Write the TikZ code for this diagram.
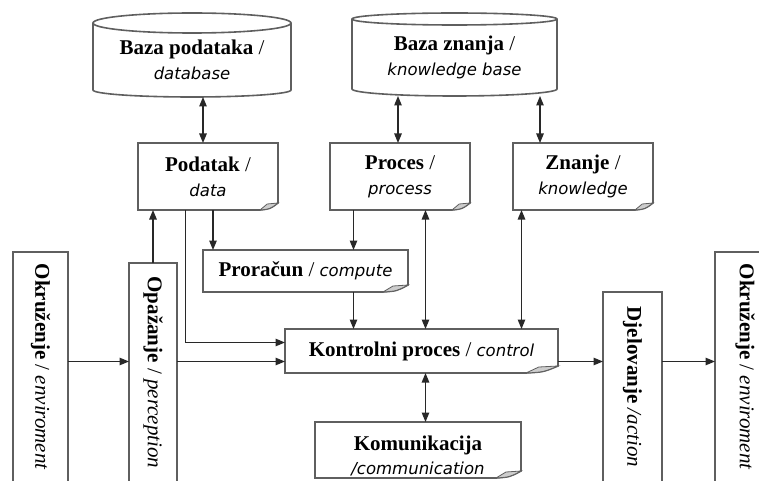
\documentclass[tikz,border=0pt]{standalone}
\usepackage{fontspec}
\setmainfont{Liberation Serif}
\newfontfamily\ensf{DejaVu Sans}
\usetikzlibrary{arrows.meta,calc}

\definecolor{boxgray}{RGB}{95,95,95}
\definecolor{linegray}{RGB}{40,40,40}
\definecolor{foldgray}{RGB}{205,205,205}

% English glosses in an oblique sans
\newcommand\en[1]{{\ensf\itshape\fontsize{16.5}{25}\selectfont #1}}
% thin separating slash
\newcommand\slsh{{\mdseries\upshape /}}

\tikzset{
  boxline/.style={draw=boxgray, line width=1.6pt},
  foldline/.style={draw=boxgray, line width=0.8pt, fill=foldgray},
  holder/.style={inner sep=0pt, outer sep=0pt, align=center,
                 font=\fontsize{21}{25}\selectfont},
  sidebox/.style={holder, boxline},
  arrow/.style={draw=linegray, line width=1.2pt,
                -{Triangle[length=9.5pt,width=7.5pt]}},
  dblarrow/.style={draw=linegray, line width=1.2pt,
                {Triangle[length=9.5pt,width=7.5pt]}-{Triangle[length=9.5pt,width=7.5pt]}},
}

% note shape: rectangle with a curled bottom-right corner
\newcommand\notebox[2]{%
  \draw[boxline] (#1.north west) -- (#1.north east) -- ([yshift=7pt]#1.south east)
    .. controls ([xshift=-#2*0.45, yshift=1pt]#1.south east) .. ([xshift=-#2]#1.south east)
    -- (#1.south west) -- cycle;
  \draw[foldline] ([xshift=-#2]#1.south east) -- ([xshift=-#2*0.6, yshift=6pt]#1.south east)
    -- ([yshift=7pt]#1.south east) .. controls ([xshift=-#2*0.45, yshift=1pt]#1.south east)
    .. cycle;
}

% cylinder around a node: name, x radius, top y radius, bottom y radius
\newcommand\drum[4]{%
  \draw[boxline] (#1.north west) -- ([yshift=#4]#1.south west)
    arc[start angle=180, end angle=360, x radius=#2, y radius=#4]
    -- (#1.north east)
    arc[start angle=0, end angle=180, x radius=#2, y radius=#3] -- cycle;
  \draw[boxline] (#1.north west)
    arc[start angle=180, end angle=360, x radius=#2, y radius=#3];
}

\begin{document}
\begin{tikzpicture}[x=1pt, y=-1pt]
  \useasboundingbox (0,0) rectangle (759,481);

  % stores
  \node[holder, minimum width=198pt, minimum height=74pt] (db) at (192,60)
    {\textbf{Baza podataka} \slsh\\ \en{database}};
  \node[holder, minimum width=205pt, minimum height=77pt] (kb) at (454.5,57.5)
    {\textbf{Baza znanja} \slsh\\ \en{knowledge base}};
  \drum{db}{99pt}{10pt}{7pt}
  \drum{kb}{102.5pt}{6pt}{7pt}

  % documents
  \node[holder, minimum width=140pt, minimum height=67pt] (podatak) at (208,176.5)
    {\textbf{Podatak} \slsh\\ \en{data}};
  \node[holder, minimum width=140pt, minimum height=67pt] (proces) at (400,176.5)
    {\textbf{Proces} \slsh\\ \en{process}};
  \node[holder, minimum width=140pt, minimum height=67pt] (znanje) at (583,176.5)
    {\textbf{Znanje} \slsh\\ \en{knowledge}};
  \node[holder, minimum width=205pt, minimum height=42pt] (proracun) at (305.5,271)
    {\textbf{Proračun} \slsh{} \en{compute}};
  \node[holder, minimum width=273pt, minimum height=44pt] (kontrolni) at (421.5,351)
    {\textbf{Kontrolni proces} \slsh{} \en{control}};
  \node[holder, minimum width=206pt, minimum height=56pt] (komunikacija) at (418,450)
    {\rule{0pt}{27pt}\textbf{Komunikacija}\\[-1pt] \en{/communication}};
  \notebox{podatak}{18pt}
  \notebox{proces}{18pt}
  \notebox{znanje}{18pt}
  \notebox{proracun}{25pt}
  \notebox{kontrolni}{32pt}
  \notebox{komunikacija}{25pt}

  % tall vertical boxes
  \node[sidebox, minimum width=55pt, minimum height=230pt] (okr1) at (40.5,367)
    {\rotatebox{-90}{\textbf{Okruženje} / \textit{enviroment}}};
  \node[sidebox, minimum width=48pt, minimum height=219pt] (opazanje) at (153,372.5)
    {\rotatebox{-90}{\textbf{Opažanje} / \textit{perception}}};
  \node[sidebox, minimum width=59pt, minimum height=190pt] (djelovanje) at (632.5,387)
    {\rotatebox{-90}{\textbf{Djelovanje} \textit{/action}}};
  \node[sidebox, minimum width=60pt, minimum height=230pt] (okr2) at (745,367)
    {\rotatebox{-90}{\textbf{Okruženje} / \textit{enviroment}}};

  % routing guides
  \coordinate (mainline) at (0,361.5);
  \coordinate (upline) at (0,342.5);
  \coordinate (vdb) at (203,0);
  \coordinate (vkbp) at (398,0);
  \coordinate (vkbz) at (540,0);
  \coordinate (vpd) at (185.5,0);
  \coordinate (vpr) at (213,0);
  \coordinate (vcomp) at (353.5,0);
  \coordinate (vctl) at (425.5,0);
  \coordinate (vkn) at (521.5,0);

  % connectors
  \draw[dblarrow] (db.south -| vdb) -- (podatak.north -| vdb);
  \draw[dblarrow] (kb.south -| vkbp) -- (proces.north -| vkbp);
  \draw[dblarrow] (kb.south -| vkbz) -- (znanje.north -| vkbz);
  \draw[arrow] (opazanje.north) -- (podatak.south -| opazanje.north);
  \draw[arrow] (podatak.south -| vpd) |- (kontrolni.west |- upline);
  \draw[arrow] (podatak.south -| vpr) -- (proracun.north -| vpr);
  \draw[arrow] (proces.south -| vcomp) -- (proracun.north -| vcomp);
  \draw[arrow] (proracun.south -| vcomp) -- (kontrolni.north -| vcomp);
  \draw[dblarrow] (proces.south -| vctl) -- (kontrolni.north -| vctl);
  \draw[dblarrow] (znanje.south -| vkn) -- (kontrolni.north -| vkn);
  \draw[dblarrow] (kontrolni.south -| vctl) -- (komunikacija.north -| vctl);
  \draw[arrow] (okr1.east |- mainline) -- (opazanje.west |- mainline);
  \draw[arrow] (opazanje.east |- mainline) -- (kontrolni.west |- mainline);
  \draw[arrow] (kontrolni.east |- mainline) -- (djelovanje.west |- mainline);
  \draw[arrow] (djelovanje.east |- mainline) -- (okr2.west |- mainline);
\end{tikzpicture}
\end{document}
